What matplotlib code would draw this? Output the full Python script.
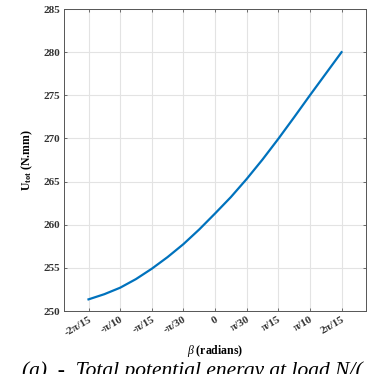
import numpy as np
import matplotlib
matplotlib.use("Agg")
import matplotlib.pyplot as plt

plt.rcParams['font.family'] = ['Liberation Serif', 'DejaVu Serif']
plt.rcParams['mathtext.fontset'] = 'custom'
plt.rcParams['mathtext.rm'] = 'Liberation Serif'
plt.rcParams['mathtext.it'] = 'Liberation Serif:italic'
plt.rcParams['mathtext.bf'] = 'Liberation Serif:bold'

# beta in steps of pi/60
beta_k = [-4, -3.5, -3, -2.5, -2, -1.5, -1, -0.5, 0, 0.5, 1, 1.5, 2, 2.5, 3, 3.5, 4]
u_tot = [251.35, 251.95, 252.7, 253.7, 254.9, 256.25, 257.75, 259.45, 261.3,
         263.2, 265.3, 267.55, 269.95, 272.45, 275.0, 277.5, 280.0]
tick_k = [-4, -3, -2, -1, 0, 1, 2, 3, 4]
tick_labels = ['-2π/15', '-π/10', '-π/15', '-π/30', '0', 'π/30', 'π/15', 'π/10', '2π/15']

beta = np.array(beta_k) * np.pi / 30

fig = plt.figure(figsize=(3.67, 3.74), dpi=100)
ax = fig.add_axes([0.1744, 0.1684, 0.823, 0.8075])

ax.plot(beta, u_tot, color='#0072BD', lw=1.6)

ax.set_xlim(-0.5, 0.5)
ax.set_ylim(250, 285)
ax.set_xticks(np.array(tick_k) * np.pi / 30)
ax.set_xticklabels(tick_labels, rotation=30, ha='right', rotation_mode='anchor',
                   fontsize=8, fontweight='bold', color='#333333')
ax.set_yticks(np.arange(250, 286, 5))
for lab in ax.get_yticklabels():
    lab.set_fontsize(8)
    lab.set_fontweight('bold')
    lab.set_color('#333333')

ax.grid(True, color='#e3e3e3', lw=0.8)
ax.set_axisbelow(True)
ax.tick_params(direction='in', length=2.5, width=0.6, color='#555555',
               top=True, right=True, pad=3)
for s in ax.spines.values():
    s.set_color('#555555')
    s.set_linewidth(0.7)

ax.set_xlabel(r'$\mathit{\beta}$ (radians)', fontsize=8.5, fontweight='bold',
              labelpad=4)
ax.set_ylabel(r'$\mathbf{U_{tot}}$ (N.mm)', fontsize=8.5, fontweight='bold',
              labelpad=6)

# caption, cut off by the bottom edge like the source
fig.text(0.06, 0.033, '(a)  -  Total potential energy at load N/(', fontsize=15.5,
         style='italic', va='top', ha='left')

fig.savefig('out.png', dpi=100)
